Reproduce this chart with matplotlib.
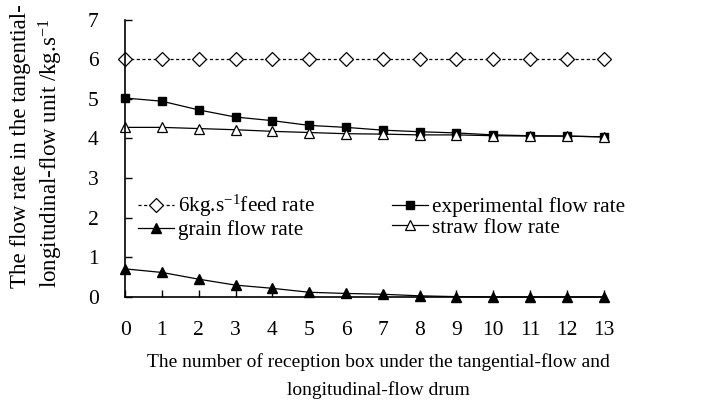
import matplotlib
matplotlib.use("Agg")
import matplotlib.pyplot as plt
import numpy as np

plt.rcParams['font.family'] = ['Liberation Serif', 'DejaVu Serif']
plt.rcParams['mathtext.fontset'] = 'custom'
plt.rcParams['mathtext.rm'] = 'Liberation Serif'
plt.rcParams['mathtext.it'] = 'Liberation Serif:italic'

# data
boxes = np.arange(14)
feed_rate = [6.0] * 14
experimental = [5.02, 4.94, 4.72, 4.54, 4.45, 4.33, 4.28, 4.21, 4.17, 4.14, 4.09, 4.07, 4.06, 4.04]
grain = [0.71, 0.62, 0.45, 0.30, 0.22, 0.12, 0.09, 0.07, 0.03, 0.01, 0.0, 0.0, 0.0, 0.0]
straw = [4.28, 4.28, 4.25, 4.22, 4.18, 4.15, 4.12, 4.11, 4.09, 4.09, 4.07, 4.06, 4.06, 4.04]

fig = plt.figure(figsize=(7.11, 4.16), dpi=100)
ax = fig.add_axes([0.176, 0.286, 0.673, 0.667])

l_feed, = ax.plot(boxes, feed_rate, color='black', lw=0.9, ls=(0, (2.5, 2)), marker='D', ms=7,
                  mfc='white', mec='black', mew=0.9, clip_on=False)
l_exp, = ax.plot(boxes, experimental, color='black', lw=0.9, marker='s', ms=6,
                 mfc='black', mec='black', clip_on=False)
l_grain, = ax.plot(boxes, grain, color='black', lw=0.9, marker='^', ms=6.5,
                   mfc='black', mec='black', clip_on=False)
l_straw, = ax.plot(boxes, straw, color='black', lw=0.9, marker='^', ms=6.5,
                   mfc='white', mec='black', mew=0.9, clip_on=False)

ax.set_xlim(0, 13)
ax.set_ylim(0, 7)
ax.set_xticks(boxes)
ax.set_yticks(range(8))
ax.spines['top'].set_visible(False)
ax.spines['right'].set_visible(False)
ax.spines['left'].set_linewidth(1.2)
ax.spines['bottom'].set_linewidth(1.2)
ax.tick_params(axis='both', direction='in', length=5, width=1, labelsize=15.5)
ax.tick_params(axis='x', pad=17)
ax.tick_params(axis='y', pad=19)

# ncol=2 fills column by column
ax.legend([l_feed, l_grain, l_exp, l_straw],
          ['6kg.s$^{-1}$feed rate', 'grain flow rate', 'experimental flow rate', 'straw flow rate'],
          loc='upper left', bbox_to_anchor=(0.027, 0.375), ncol=2, frameon=False,
          fontsize=15.3, handlelength=1.7, columnspacing=3.6, borderaxespad=0,
          borderpad=0, labelspacing=0.05, handletextpad=0.2)

fig.text(0.532, 0.096, 'The number of reception box under the tangential-flow and\nlongitudinal-flow drum',
         ha='center', va='center', fontsize=14, linespacing=1.7)
fig.text(0.053, 0.308, 'The flow rate in the tangential-\nlongitudinal-flow unit /kg.s$^{-1}$',
         rotation=90, ha='center', va='bottom', multialignment='left', fontsize=16.5,
         linespacing=1.3)

fig.savefig('out.png', dpi=100)
